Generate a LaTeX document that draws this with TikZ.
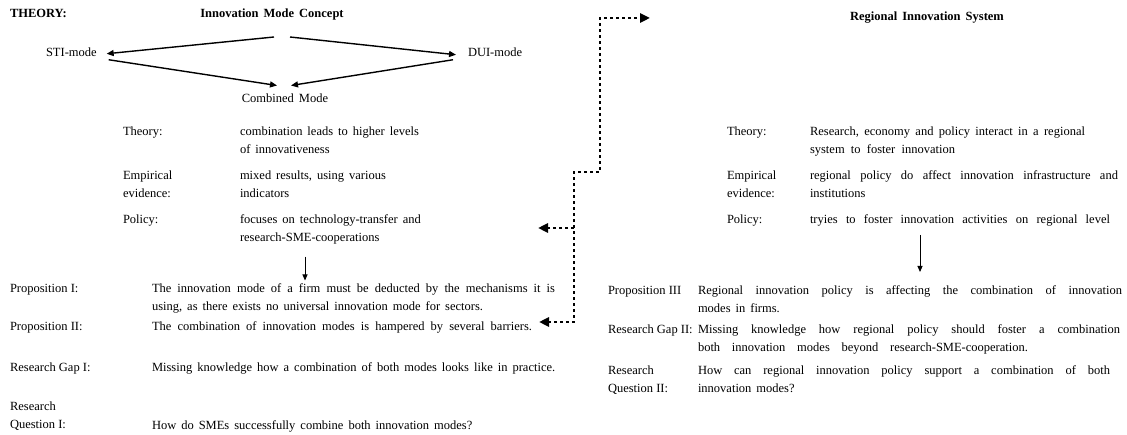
\documentclass[tikz,border=0pt]{standalone}
\usepackage{fontspec}
\setmainfont{Liberation Serif}
\usetikzlibrary{arrows.meta,calc}
% body text: Times-like, wide interword spacing with some stretch
\newcommand\bodysize{\fontsize{12.5}{18.5}\selectfont\spaceskip=0.4em plus 1em\relax}
% row labels keep the font's own interword spacing
\newcommand\labelsize{\fontsize{12.5}{18.5}\selectfont}
% a line spread out to a given width
\newcommand\spread[2]{\makebox[#1pt][s]{#2}}

\begin{document}
\begin{tikzpicture}[x=1pt,y=-1pt,
  cell/.style={font=\bodysize, inner sep=0pt, outer sep=0pt, align=left,
               anchor=north west, yshift=8.5pt},
  lab/.style={cell, font=\labelsize},
  cellc/.style={cell, anchor=north},
  head/.style={font=\bodysize\bfseries},
  arr/.style={line width=1.4pt, -{Triangle[length=7pt,width=6pt]}},
  darr/.style={line width=0.9pt, -{Triangle[length=6pt,width=5pt]}},
  dots/.style={line width=2.6pt, dash pattern=on 2.6pt off 3.4pt,
               {Triangle[length=10pt,width=9pt]}-{Triangle[length=10pt,width=9pt]}},
  dotsone/.style={line width=2.6pt, dash pattern=on 2.6pt off 3.4pt,
               -{Triangle[length=10pt,width=9pt]}}
]
\useasboundingbox (0,0) rectangle (1127,435);

% ---------- innovation mode concept ----------
\node[lab, head] (theory) at (10,13) {\strut THEORY:};
\node[cellc, head] (imc) at (272,13) {\strut Innovation Mode Concept};
\node[cell] (sti) at (46,52) {\strut STI-mode};
\node[cell] (dui) at (468,52) {\strut DUI-mode};
\node[cellc] (comb) at (285,98) {\strut Combined Mode};

\coordinate (splitL) at ($(comb.north |- imc.south)+(-11,14)$);
\coordinate (splitR) at ($(comb.north |- imc.south)+(5,14)$);
\draw[arr] (splitL) -- ($(sti.east)+(10,1)$);
\draw[arr] (splitR) -- ($(dui.west)+(-12,2)$);
\draw[arr] ($(sti.east)+(12,7)$) -- ($(comb.north)+(-8,-4)$);
\draw[arr] ($(dui.west)+(-15,7)$) -- ($(comb.north)+(6,-4)$);

% ---------- left table ----------
\node[lab]  (lth)  at (123,131) {\strut Theory:};
\node[cell] (lthv) at (240,131) {\strut combination leads to higher levels\\of innovativeness};
\node[lab]  (lem)  at (123,175) {\strut Empirical\\evidence:};
\node[cell] (lemv) at (240,175) {\strut mixed results, using various\\indicators};
\node[lab]  (lpol) at (123,219) {\strut Policy:};
\node[cell] (lpolv) at (240,219) {\strut focuses on technology-transfer and\\research-SME-cooperations};

% ---------- left propositions ----------
\node[lab]  (p1)  at (10,288) {\strut Proposition I:};
\node[cell] (p1v) at (152,288) {\strut\spread{403}{The innovation mode of a firm must be deducted by the mechanisms it is}\\using, as there exists no universal innovation mode for sectors.};
\node[lab]  (p2)  at (10,326) {\strut Proposition II:};
\node[cell] (p2v) at (152,326) {\strut\spread{380}{The combination of innovation modes is hampered by several barriers.}};
\node[lab]  (g1)  at (10,367) {\strut Research Gap I:};
\node[cell] (g1v) at (152,367) {\strut Missing knowledge how a combination of both modes looks like in practice.};
\node[lab]  (q1)  at (10,406) {\strut Research\\Question I:};
\node[cell] (q1v) at (152,425) {\strut How do SMEs successfully combine both innovation modes?};

\draw[darr] ($(lpolv.south west)+(65,12)$) -- ($(p1v.north west)+(153,1)$);

% ---------- regional innovation system ----------
\node[cellc, head] (ris) at (927,16) {\strut Regional Innovation System};

\node[lab]  (rth)  at (727,131) {\strut Theory:};
\node[cell] (rthv) at (810,131) {\strut\spread{275}{Research, economy and policy interact in a regional}\\\spread{145}{system to foster innovation}};
\node[lab]  (rem)  at (727,175) {\strut Empirical\\evidence:};
\node[cell] (remv) at (810,175) {\strut\spread{308}{regional policy do affect innovation infrastructure and}\\institutions};
\node[lab]  (rpol) at (727,219) {\strut Policy:};
\node[cell] (rpolv) at (810,219) {\strut\spread{300}{tryies to foster innovation activities on regional level}};

\node[lab]  (p3)  at (608,290) {\strut Proposition III};
\node[cell] (p3v) at (698,290) {\strut\spread{424}{Regional innovation policy is affecting the combination of innovation}\\modes in firms.};
\node[lab]  (g2)  at (608,329) {\strut Research Gap II:};
\node[cell] (g2v) at (698,329) {\strut\spread{422}{Missing knowledge how regional policy should foster a combination}\\\spread{330}{both innovation modes beyond research-SME-cooperation.}};
\node[lab]  (q2)  at (608,370) {\strut Research\\Question II:};
\node[cell] (q2v) at (698,370) {\strut\spread{412}{How can regional innovation policy support a combination of both}\\innovation modes?};

\draw[darr] ($(rpolv.south west)+(110,6)$) -- ($(p3v.north west)+(222,-9.5)$);

% ---------- dotted link between both concepts ----------
\coordinate (jUp)   at (600,172);
\coordinate (jLow)  at (574,172);
\coordinate (tipR)  at (650,18);
\coordinate (tipQ)  at (539,322);
\coordinate (brP)   at (574,228);
\coordinate (tipP)  at (538,228);
\draw[dots] (tipQ) -| (jLow) -- (jUp) |- (tipR);
\draw[dotsone] (brP) -- (tipP);
\end{tikzpicture}
\end{document}
